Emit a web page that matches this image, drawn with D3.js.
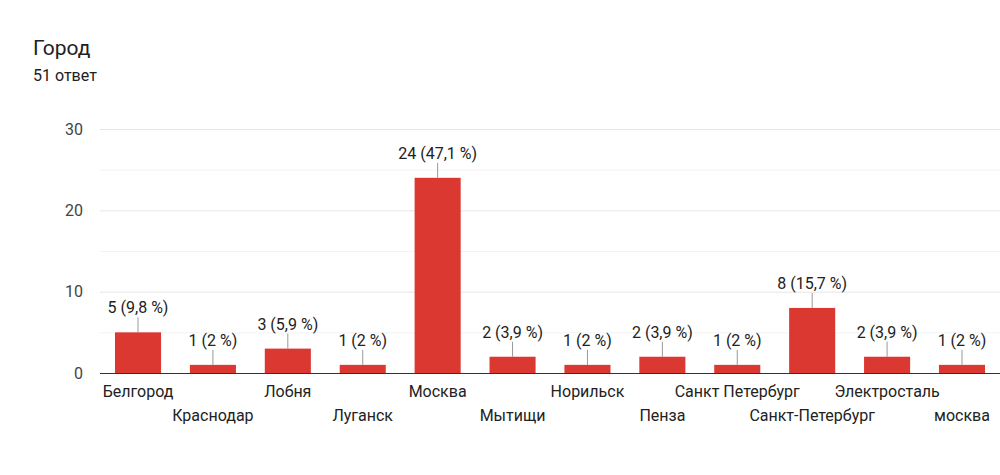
<!DOCTYPE html>
<meta charset="utf-8">
<script src="https://d3js.org/d3.v7.min.js"></script>
<style>
body { margin: 0; background: #fff; font-family: Roboto, Arial, sans-serif; }
.grid line { stroke: #e6e6e6; }
.grid .minor { stroke: #f3f3f3; }
</style>
<body></body>
<script>
// data
var cities = ["Белгород", "Краснодар", "Лобня", "Луганск", "Москва", "Мытищи",
  "Норильск", "Пенза", "Санкт Петербург", "Санкт-Петербург", "Электросталь", "москва"];
var counts = [5, 1, 3, 1, 24, 2, 1, 2, 1, 8, 2, 1];
var percents = ["9,8", "2", "5,9", "2", "47,1", "3,9", "2", "3,9", "2", "15,7", "3,9", "2"];
var yTicks = [0, 10, 20, 30];
var yMinor = [5, 15, 25];

var W = 1000, H = 475;
var plotLeft = 100, plotRight = 1000, plotTop = 129, plotBottom = 373;

var svg = d3.select("body").append("svg")
    .attr("width", W)
    .attr("height", H);

svg.append("text").attr("x", 33).attr("y", 55)
  .style("font-size", "21px").style("fill", "#202124").text("Город");
svg.append("text").attr("x", 33).attr("y", 81)
  .style("font-size", "16px").style("fill", "#202124").text("51 ответ");

var x = d3.scaleBand().domain(cities).range([plotLeft, plotRight]).paddingInner(0.385).paddingOuter(0.2);
var y = d3.scaleLinear().domain([0, 30]).range([plotBottom, plotTop]);

// gridlines
var grid = svg.append("g").attr("class", "grid");
grid.selectAll(".minor").data(yMinor).enter().append("line")
  .attr("class", "minor")
  .attr("x1", plotLeft).attr("x2", plotRight)
  .attr("y1", function(d) { return y(d) + 0.5; })
  .attr("y2", function(d) { return y(d) + 0.5; });
grid.selectAll(".major").data(yTicks.slice(1)).enter().append("line")
  .attr("class", "major")
  .attr("x1", plotLeft).attr("x2", plotRight)
  .attr("y1", function(d) { return y(d) + 0.5; })
  .attr("y2", function(d) { return y(d) + 0.5; });

// y axis labels
var yAxis = d3.axisLeft(y).tickValues(yTicks).tickSize(0).tickPadding(17);
var yg = svg.append("g").attr("transform", "translate(" + plotLeft + ",0)").call(yAxis);
yg.select(".domain").remove();
yg.selectAll("text").style("font-size", "16px").style("fill", "#444").style("font-family", "Roboto, Arial, sans-serif");

// bars
svg.selectAll(".bar").data(cities).enter().append("rect")
  .attr("class", "bar")
  .attr("x", function(d) { return x(d); })
  .attr("width", x.bandwidth())
  .attr("y", function(d, i) { return y(counts[i]); })
  .attr("height", function(d, i) { return plotBottom - y(counts[i]); })
  .style("fill", "#db3832");

// leader lines and labels
svg.selectAll(".lead").data(cities).enter().append("line")
  .attr("x1", function(d) { return x(d) + x.bandwidth() / 2; })
  .attr("x2", function(d) { return x(d) + x.bandwidth() / 2; })
  .attr("y1", function(d, i) { return y(counts[i]); })
  .attr("y2", function(d, i) { return y(counts[i]) - 15; })
  .style("stroke", "#999").style("stroke-width", 1);

svg.selectAll(".vlab").data(cities).enter().append("text")
  .attr("x", function(d) { return x(d) + x.bandwidth() / 2; })
  .attr("y", function(d, i) { return y(counts[i]) - 19; })
  .attr("text-anchor", "middle")
  .style("font-size", "16px").style("fill", "#222")
  .text(function(d, i) { return counts[i] + " (" + percents[i] + " %)"; });

// x axis
svg.append("line").attr("x1", plotLeft).attr("x2", plotRight)
  .attr("y1", plotBottom + 0.5).attr("y2", plotBottom + 0.5)
  .style("stroke", "#333").style("stroke-width", 1);

svg.selectAll(".xlab").data(cities).enter().append("text")
  .attr("x", function(d) { return x(d) + x.bandwidth() / 2; })
  .attr("y", function(d, i) { return i % 2 === 0 ? 397 : 421; })
  .attr("text-anchor", "middle")
  .style("font-size", "16px").style("fill", "#222")
  .text(function(d) { return d; });
</script>
